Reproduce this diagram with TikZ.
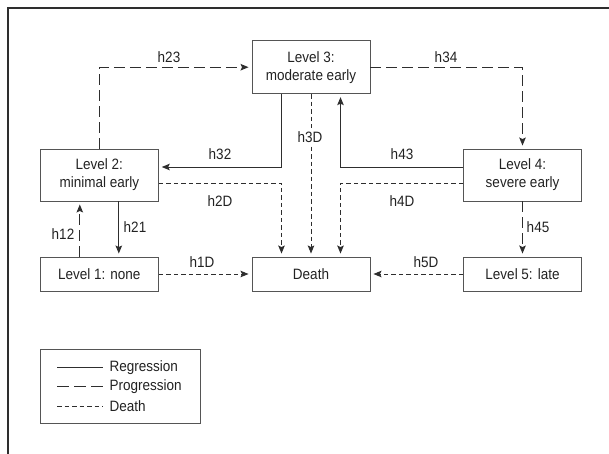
\documentclass[tikz,border=0pt]{standalone}
\usepackage{fontspec}
\setmainfont[FakeStretch=0.9]{Liberation Sans}
\usetikzlibrary{arrows.meta}
\definecolor{linec}{HTML}{2E2E2E}
\definecolor{boxc}{HTML}{555555}
\definecolor{txtc}{HTML}{222222}
\begin{document}
\begin{tikzpicture}[x=1pt,y=-1pt,
  lvl/.style={draw=boxc, line width=0.9pt, minimum width=118pt, inner sep=0pt, align=center,
    font=\fontsize{15}{18}\selectfont, text=txtc},
  lbl/.style={font=\fontsize{15}{17}\selectfont, text=txtc, inner sep=0pt},
  conn/.style={draw=linec, line width=1pt, -{Stealth[length=8pt,width=6.5pt,inset=1.5pt]}, shorten >=3pt},
  reg/.style={conn},
  prog/.style={conn, dash pattern=on 11pt off 5pt},
  dth/.style={conn, dash pattern=on 4.5pt off 3pt},
  legline/.style={draw=linec, line width=1pt}
]
\useasboundingbox (0,0) rectangle (609,453);
% frame
\draw[draw=linec, line width=1.3pt] (610,8) -- (8,8) -- (8,454);

% boxes
\node[lvl, minimum height=53pt] (L3) at (311,67.2) {Level 3:\\moderate early};
\node[lvl, minimum height=52pt] (L2) at (99.3,175) {Level 2:\\minimal early};
\node[lvl, minimum height=52pt] (L4) at (522.5,175) {Level 4:\\severe early};
\node[lvl, minimum height=34pt] (L1) at (99.3,274) {Level 1: none};
\node[lvl, minimum height=34pt] (D) at (311,274) {Death};
\node[lvl, minimum height=34pt] (L5) at (522.5,274) {Level 5: late};

% connectors
\draw[prog] (L2.north) |- (L3.west);
\draw[prog] (L3.east) -| (L4.north);
\draw[reg] ([xshift=-30pt]L3.south) |- ([yshift=8pt]L2.east);
\draw[reg] ([yshift=8pt]L4.west) -| ([xshift=29.5pt]L3.south);
\draw[dth] (L3.south) -- (D.north);
\draw[dth] ([yshift=-8pt]L2.east) -| ([xshift=-29.5pt]D.north);
\draw[dth] ([yshift=-8pt]L4.west) -| ([xshift=29.5pt]D.north);
\draw[prog] (L4.south) -- (L5.north);
\draw[prog] ([xshift=-19.5pt]L1.north) -- ([xshift=-19.5pt]L2.south);
\draw[reg] ([xshift=19.5pt]L2.south) -- ([xshift=19.5pt]L1.north);
\draw[dth] (L1.east) -- (D.west);
\draw[dth] (L5.west) -- (D.east);

% labels
\node[lbl] (t23) at (169,57) {h23};
\node[lbl] (t34) at (446,57) {h34};
\node[lbl] (t32) at (220,154) {h32};
\node[lbl] (t43) at (402,154) {h43};
\node[lbl, fill=white, inner ysep=3pt, inner xsep=1pt] (t3D) at (310,137) {h3D};
\node[lbl] (t2D) at (220,201) {h2D};
\node[lbl] (t4D) at (402,201) {h4D};
\node[lbl] (t12) at (63,234) {h12};
\node[lbl] (t21) at (135,227) {h21};
\node[lbl] (t45) at (538,227) {h45};
\node[lbl] (t1D) at (202,262) {h1D};
\node[lbl] (t5D) at (426,262) {h5D};

% legend
\node[draw=boxc, line width=0.9pt, minimum width=160.5pt, minimum height=74pt, inner sep=0pt] (leg) at (120.6,386.3) {};
\coordinate (r1) at (57,367.5);
\coordinate (r2) at (102.5,367.5);
\coordinate (p1) at (57,386.7);
\coordinate (p2) at (102.5,386.7);
\coordinate (d1) at (57,406.5);
\coordinate (d2) at (102.5,406.5);
\draw[legline] (r1) -- (r2);
\draw[legline, dash pattern=on 12pt off 5pt] (p1) -- (p2);
\draw[legline, dash pattern=on 4.5pt off 3pt] (d1) -- (d2);
\node[lbl, anchor=west] (lr) at (109.5,367.5) {Regression};
\node[lbl, anchor=west] (lp) at (109.5,386.7) {Progression};
\node[lbl, anchor=west] (ld) at (109.5,406.5) {Death};
\end{tikzpicture}
\end{document}
